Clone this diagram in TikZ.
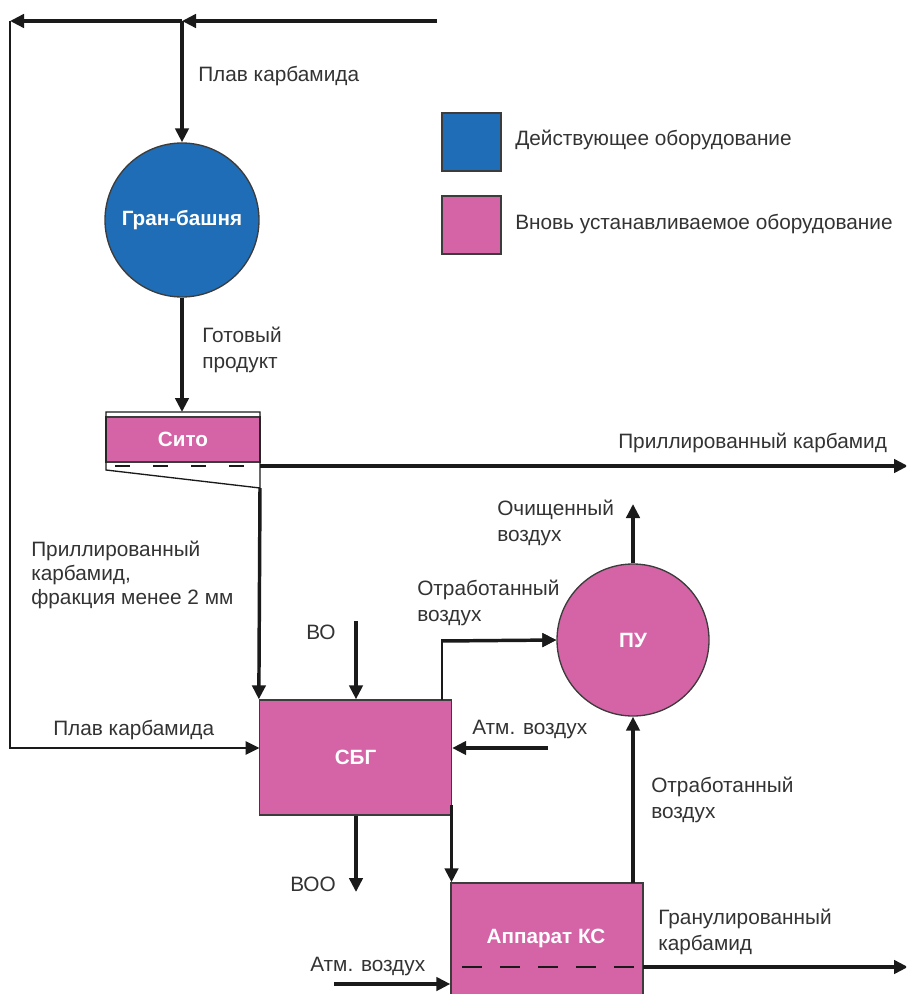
\documentclass[tikz,border=0pt]{standalone}
\usepackage{fontspec}
\setmainfont{Liberation Sans}
\usetikzlibrary{arrows.meta}
\definecolor{bluef}{HTML}{1F6DB6}
\definecolor{pinkf}{HTML}{D464A6}
\definecolor{txt}{HTML}{333333}
\definecolor{ln}{HTML}{1A1A1A}
\tikzset{
  flow/.style={line width=2.6pt, draw=ln, -{Triangle[length=10.5pt,width=10pt]}},
  flowthin/.style={line width=1.6pt, draw=ln, -{Triangle[length=10.5pt,width=10pt]}},
  lbl/.style={font=\fontsize{15.6}{19.5}\selectfont, text=txt, align=left, inner sep=0pt, anchor=west},
  unit/.style={draw=ln!85, line width=1pt, font=\bfseries\fontsize{15.5}{18}\selectfont, text=white, inner sep=0pt},
}
\begin{document}
\begin{tikzpicture}[x=0.75pt,y=-0.75pt]
\useasboundingbox (0,0) rectangle (906,994);
\clip (0,0) rectangle (906,994);

% units
\node[unit, circle, fill=bluef, minimum size=115.5pt] (tower) at (182,220) {Гран-башня};
\node[unit, rectangle, fill=pinkf, minimum width=115.5pt, minimum height=33.75pt] (sito) at (183,439.5) {Сито};
\node[unit, rectangle, fill=pinkf, minimum width=144pt, minimum height=86.25pt] (sbg) at (355.5,757.5) {СБГ};
\node[unit, circle, fill=pinkf, minimum size=114pt] (pu) at (633,640) {ПУ};
\node[unit, rectangle, fill=pinkf, minimum width=144pt, minimum height=94.5pt] (ks) at (547,946) {};
\node[font=\bfseries\fontsize{15.5}{18}\selectfont, text=white] (kslbl) at (546,938) {Аппарат КС};

% legend
\node[unit, rectangle, fill=bluef, minimum width=44.25pt, minimum height=43.5pt] (legA) at (471.5,142) {};
\node[unit, rectangle, fill=pinkf, minimum width=44.25pt, minimum height=43.5pt] (legB) at (471.5,225) {};
\node[lbl] (legAt) at (515,140) {Действующее оборудование};
\node[lbl] (legBt) at (515,224) {Вновь устанавливаемое оборудование};

% sito frame
\coordinate (sTL) at (106,412);
\coordinate (sTR) at (260,412);
\coordinate (sBL) at (106,470);
\coordinate (sBR) at (260,488);
\draw[line width=1pt, draw=ln] (sTL) -- (sTR) -- (sBR) -- (sBL) -- cycle;
\draw[line width=1.3pt, draw=ln, dash pattern=on 11pt off 17.5pt] (115,466) -- (255,466);

% top pipe
\coordinate (topR) at (437,21);
\coordinate (topJ) at (182,21);
\coordinate (topL) at (10,21);
\draw[flow] (topR) -- (topJ);
\draw[flow] (topJ) -- (topL);
\draw[flow] (topJ) -- (tower.north);
\coordinate (sbgIn) at (259.5,748);
\draw[flowthin] (topL) |- (sbgIn);

% tower to sito
\coordinate (sitoIn) at (182,412);
\draw[flow] (tower.south) -- (sitoIn);

% sito outputs
\coordinate (sitoOut) at (260,466);
\coordinate (prilEnd) at (908,466);
\draw[flow] (sitoOut) -- (prilEnd);
\draw[flow] (sBR) -- (sbg.north west);

% SBG connections
\coordinate (voTop) at (356,621);
\draw[flow] (voTop) -- (voTop |- sbg.north);
\coordinate (sbgOutTop) at (442,700);
\draw[flowthin] (sbgOutTop) |- (pu.west);
\draw[flow] (442,641) -- (pu.west);
\coordinate (atm1) at (548,748);
\draw[flow] (atm1) -- (atm1 -| sbg.east);
\coordinate (vooBot) at (356,892);
\draw[flow] (vooBot |- sbg.south) -- (vooBot);
\coordinate (sbgKs) at (451.5,805);
\draw[flow] (sbgKs) -- (sbgKs |- ks.north);

% PU connections
\coordinate (puTop) at (633,504);
\draw[flow] (pu.north) -- (puTop);
\coordinate (ksOutTop) at (633,883);
\draw[flow] (ksOutTop) -- (pu.south);

% KS connections
\draw[line width=1.3pt, draw=ln, dash pattern=on 15pt off 13.5pt] (462,967) -- (640,967);
\coordinate (ksOut) at (643,967);
\coordinate (granEnd) at (908,967);
\draw[flow] (ksOut) -- (granEnd);
\coordinate (atm2) at (334,984);
\draw[flow] (atm2) -- (atm2 -| ks.west);

% labels
\node[lbl] (l1) at (198,76) {Плав карбамида};
\node[lbl] (l2) at (202,350) {Готовый\\продукт};
\node[lbl] (l3) at (618,443) {Приллированный карбамид};
\node[lbl, font=\fontsize{15.6}{17.8}\selectfont] (l4) at (31,575) {Приллированный\\карбамид,\\фракция менее 2 мм};
\node[lbl] (l5) at (497,523) {Очищенный\\воздух};
\node[lbl] (l6) at (417,603) {Отработанный\\воздух};
\node[lbl] (l7) at (306,632) {ВО};
\node[lbl] (l8) at (53,730) {Плав карбамида};
\node[lbl] (l9) at (472,729) {Атм. воздух};
\node[lbl] (l10) at (651,800) {Отработанный\\воздух};
\node[lbl] (l11) at (290,884) {ВОО};
\node[lbl] (l12) at (658,932) {Гранулированный\\карбамид};
\node[lbl] (l13) at (310,966) {Атм. воздух};
\end{tikzpicture}
\end{document}
